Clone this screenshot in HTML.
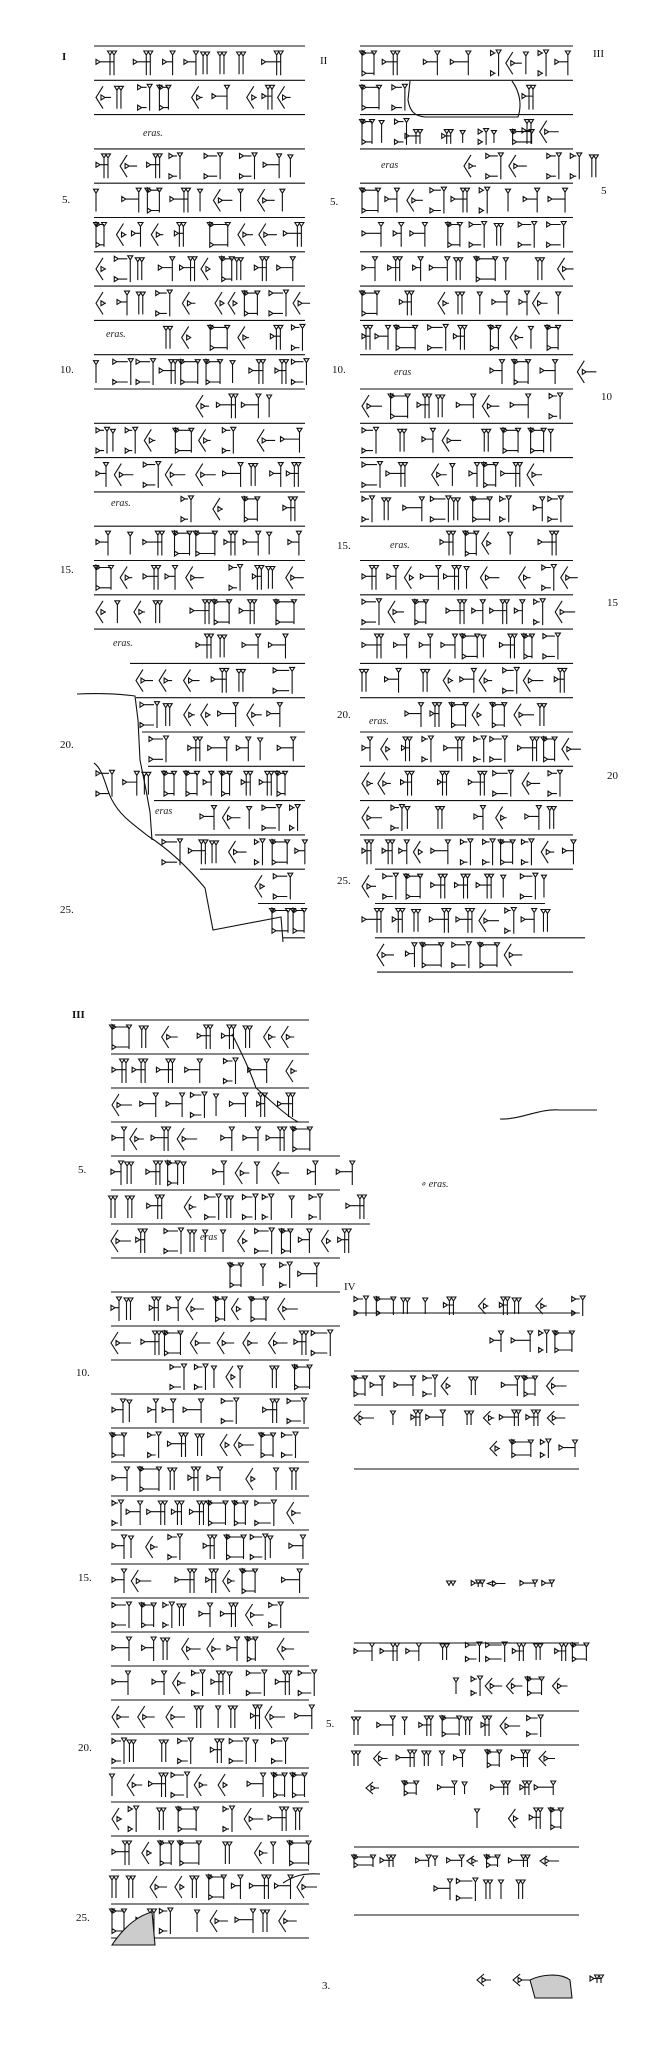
<!DOCTYPE html>
<html><head><meta charset="utf-8">
<style>
html,body{margin:0;padding:0;background:#fff;}
body{width:664px;height:2060px;overflow:hidden;position:relative;}
svg{position:absolute;left:0;top:0;}
.t{font-family:"Liberation Serif",serif;font-size:11px;fill:#111;}
.e{font-family:"Liberation Serif",serif;font-style:italic;font-size:10px;fill:#222;}
</style></head>
<body>
<svg id="s" width="664" height="2060" viewBox="0 0 664 2060" xmlns="http://www.w3.org/2000/svg">
<g stroke="#111" stroke-width="1.1" fill="none" id="lines"></g>
<g stroke="#111" stroke-width="1.1" fill="none" id="signs"></g>
<g stroke="#111" stroke-width="1.1" fill="none">
<path d="M77 694 C100 693 120 694 135 696 L138 720 L140 760 L146 790 L150 812 L152 840"/>
<path d="M94 763 C104 770 106 790 112 800 C120 815 130 822 148 836 C170 850 190 870 205 888 L213 930 L281 917 L283 942"/>
<path d="M410 81 L408 100 C410 112 415 116 425 117 L518 117 C522 105 520 92 512 81"/>
<path d="M500 1119 C520 1120 540 1108 560 1110 L597 1110"/>
<path d="M232 1034 C240 1050 250 1070 256 1088 C270 1100 285 1115 298 1122"/>
<path d="M283 1883 C295 1875 305 1873 320 1874"/>
<path d="M530 1980 C540 1975 560 1972 570 1980 L572 1998 L535 1998 Z" fill="#ccc"/>
<path d="M112 1945 C125 1925 140 1915 152 1912 L155 1945 Z" fill="#ccc"/>
</g>
<text class="t" x="62" y="60" font-weight="bold" font-size="14">I</text>
<text class="t" x="320" y="64" font-size="13">II</text>
<text class="t" x="593" y="57" font-size="10">III</text>
<text class="t" x="62" y="203">5.</text>
<text class="t" x="60" y="373">10.</text>
<text class="t" x="60" y="573">15.</text>
<text class="t" x="60" y="748">20.</text>
<text class="t" x="60" y="913">25.</text>
<text class="t" x="330" y="205">5.</text>
<text class="t" x="332" y="373">10.</text>
<text class="t" x="337" y="549">15.</text>
<text class="t" x="337" y="718">20.</text>
<text class="t" x="337" y="884">25.</text>
<text class="t" x="601" y="194" font-size="10">5</text>
<text class="t" x="601" y="400" font-size="10">10</text>
<text class="t" x="607" y="606" font-size="10">15</text>
<text class="t" x="607" y="779" font-size="10">20</text>
<text class="e" x="143" y="136">eras.</text>
<text class="e" x="106" y="337">eras.</text>
<text class="e" x="111" y="506">eras.</text>
<text class="e" x="113" y="646">eras.</text>
<text class="e" x="155" y="814">eras</text>
<text class="e" x="381" y="168">eras</text>
<text class="e" x="394" y="375">eras</text>
<text class="e" x="390" y="548">eras.</text>
<text class="e" x="369" y="724">eras.</text>
<text class="t" x="72" y="1018" font-weight="bold" font-size="11">III</text>
<text class="t" x="344" y="1290" font-size="11">IV</text>
<text class="t" x="78" y="1173">5.</text>
<text class="t" x="76" y="1376">10.</text>
<text class="t" x="78" y="1581">15.</text>
<text class="t" x="78" y="1751">20.</text>
<text class="t" x="76" y="1921">25.</text>
<text class="t" x="326" y="1727">5.</text>
<text class="e" x="420" y="1187">∘ eras.</text>
<text class="e" x="200" y="1240" font-size="9">eras</text>
<text class="t" x="322" y="1989">3.</text>
</svg>
<script>
(function(){
var seed=12345;function r(){seed=(seed*16807)%2147483647;return seed/2147483647;}
var NS="http://www.w3.org/2000/svg";
var L=document.getElementById("lines"),S=document.getElementById("signs");
var dl="",ds="";
function hl(x0,x1,y){dl+="M"+x0+" "+y.toFixed(1)+"H"+x1;}
function vw(x,y,h){ds+="M"+(x-2.5)+" "+y+"L"+(x+2.5)+" "+y+"L"+x+" "+(y+4)+"ZM"+x+" "+(y+4)+"V"+(y+h);}
function hw(x,y,w){ds+="M"+x+" "+(y-2.5)+"L"+x+" "+(y+2.5)+"L"+(x+4)+" "+y+"ZM"+(x+4)+" "+y+"H"+(x+w);}
function ang(x,y,h){ds+="M"+(x+7)+" "+y+"L"+x+" "+(y+h/2)+"L"+(x+7)+" "+(y+h);}
function sign(x,y,h){
 var t=r(),w=8+Math.floor(r()*12);
 if(t<0.35){hw(x,y+h*0.45,w);var n=1+Math.floor(r()*2);
  for(var i=0;i<n;i++)vw(x+w-i*4,y+1,h-2);
 }else if(t<0.5){var n=2;for(var i=0;i<n;i++)hw(x,y+3+i*(h-6),w-3);vw(x+w,y,h);
 }else if(t<0.7){ang(x,y+2,h-4);hw(x+5,y+h*0.5,w-4);}
 else if(t<0.82){vw(x,y+1,h-2);hw(x,y+3,w);hw(x,y+h-3,w);vw(x+w,y+1,h-2);}
 else{var n=1+Math.floor(r()*2);for(var i=0;i<n;i++)vw(x+i*4,y+2,h-4);w=n*4+2;}
 return w;
}
function row(x0,x1,y0,y1){
 var y=y0+4,h=y1-y0-8,x=x0;
 while(x<x1-6){var w=sign(x,y,h);x+=w+5+r()*8;if(r()<0.15)x+=14;}
}
var yI=[];for(var i=0;i<27;i++)yI.push(46+i*34.3);
for(var i=0;i<27;i++){var xa=94;if(i>=18&&i<=22)xa=130+(i-18)*6;if(i==23)xa=155;if(i==24)xa=200;if(i==25)xa=258;if(i==26)xa=283;hl(xa,305,yI[i]);}
var oI={2:null,8:[166,300],10:[196,281],13:[181,306],17:[196,294],18:[136,300],19:[140,300],20:[149,300],22:[200,302],23:[162,302],24:[255,302],25:[272,302]};
for(var i=0;i<26;i++){var o=(i in oI)?oI[i]:[96,300];if(o)row(o[0],o[1],yI[i],yI[i+1]);}
var yII=[];for(var i=0;i<28;i++)yII.push(46+i*34.3);
for(var i=0;i<28;i++){var xa=360,xb=573;if(i>=24)xa=375;if(i==25)xb=545;if(i==26)xb=585;if(i==27){xa=377;xb=573;}hl(xa,xb,yII[i]);}
var oII={3:[464,605],9:[490,605],14:[440,575],19:[405,565],26:[377,515]};
for(var i=0;i<27;i++){
 if(i==1||i==2){row(362,405,yII[i],yII[i+1]);row(522,552,yII[i],yII[i+1]);if(i==2)row(405,520,yII[i]+10,yII[i+1]);continue;}
 var o=(i in oII)?oII[i]:[362,570];row(o[0],o[1],yII[i],yII[i+1]);
}
var yIII=[];for(var i=0;i<28;i++)yIII.push(1020+i*34);
for(var i=0;i<28;i++){var xb=309;if(i>=4&&i<=9)xb=340;if(i==6)xb=370;hl(111,xb,yIII[i]);}
var oIII={4:[111,360],5:[111,370],6:[111,345],7:[230,315],8:[111,305],9:[111,340],10:[170,315]};
for(var i=0;i<27;i++){var o=(i in oIII)?oIII[i]:[112,305];row(o[0],o[1],yIII[i],yIII[i+1]);}
[1313,1371,1405,1469,1643,1711,1745,1847,1915].forEach(function(y){hl(354,579,y);});
var rIV=[[354,579,1292,1320],[490,579,1326,1357],[354,566,1371,1401],[354,566,1405,1431],[490,566,1435,1462],
[354,579,1638,1666],[456,579,1672,1700],[354,560,1711,1741],[354,566,1745,1772],[366,566,1776,1800],[477,566,1803,1834],[354,566,1850,1872],[434,537,1874,1905]];
rIV.forEach(function(a){row(a[0],a[1],a[2],a[3]);});
row(449,500,1575,1592);row(520,562,1575,1592);
row(477,540,1968,1992);row(590,610,1970,1988);
var p=document.createElementNS(NS,"path");p.setAttribute("d",dl);L.appendChild(p);
var q=document.createElementNS(NS,"path");q.setAttribute("d",ds);S.appendChild(q);
})();
</script>
</body></html>
